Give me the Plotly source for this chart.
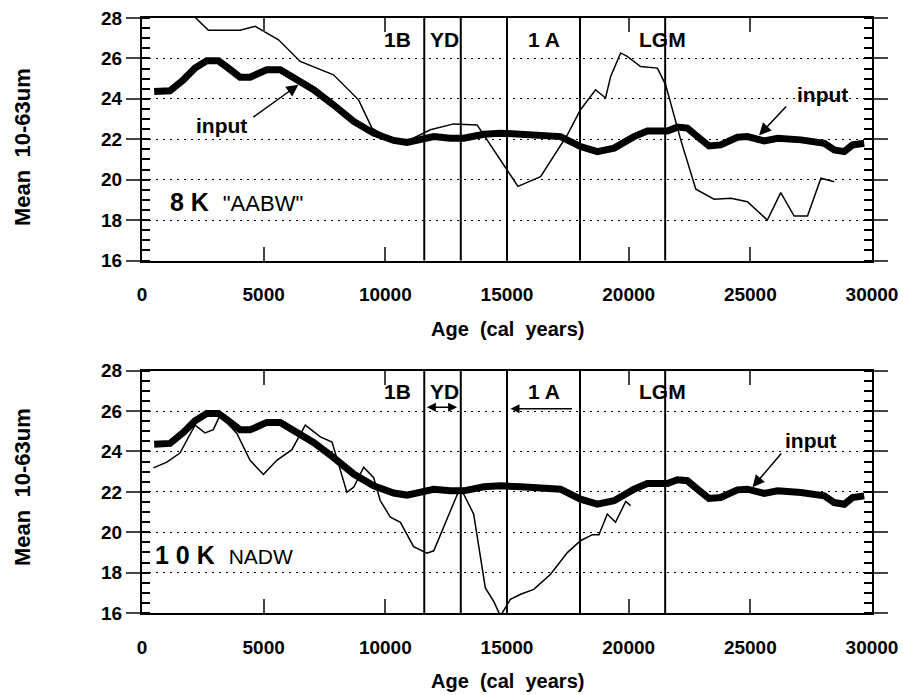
import plotly.graph_objects as go

# ---- data ----
input_age = [500, 1150, 1700, 2180, 2660, 3140, 3550, 4030, 4440, 5130, 5680, 6370, 7050, 7870,
             8700, 9520, 10340, 10890, 11580, 11990, 12670, 13220, 14050, 14730, 15560, 17200,
             18020, 18710, 19400, 20220, 20770, 21590, 22000, 22410, 22830, 23300, 23780, 24470,
             24880, 25570, 26120, 27080, 28040, 28450, 28860, 29200, 29680]
input_val = [24.36, 24.4, 24.94, 25.52, 25.88, 25.88, 25.52, 25.07, 25.07, 25.44, 25.44, 24.94,
             24.45, 23.7, 22.88, 22.3, 21.94, 21.84, 21.97, 22.13, 22.05, 22.05, 22.25, 22.3,
             22.25, 22.13, 21.64, 21.39, 21.56, 22.13, 22.41, 22.41, 22.6, 22.55, 22.13, 21.67,
             21.72, 22.1, 22.13, 21.92, 22.05, 21.97, 21.8, 21.47, 21.39, 21.72, 21.8]

aabw_age = [1700, 2730, 4030, 4650, 5610, 6500, 7870, 8900, 9450, 10070, 10900, 11850, 12810,
            13770, 14180, 15010, 15450, 16380, 17480, 18020, 18640, 19050, 19260, 19670, 19940,
            20490, 21180, 21520, 22140, 22760, 23510, 24200, 24880, 25700, 26250, 26800, 27350,
            27900, 28450]
aabw_val = [28.6, 27.39, 27.39, 27.59, 26.92, 25.85, 25.19, 23.95, 22.55, 22.13, 21.9, 22.47,
            22.76, 22.71, 21.97, 20.48, 19.67, 20.15, 22.22, 23.46, 24.45, 24.04, 25.11, 26.27,
            26.1, 25.6, 25.52, 24.69, 21.97, 19.53, 19.03, 19.08, 18.91, 18.0, 19.36, 18.2, 18.2,
            20.07, 19.9]

nadw_age = [470, 1020, 1560, 2180, 2590, 2930, 3210, 3900, 4440, 4990, 5540, 6160, 6710, 7330,
            7810, 8420, 8700, 9110, 9520, 9790, 10210, 10620, 11160, 11710, 11990, 13080, 13630,
            14110, 14460, 14730, 15140, 15560, 16100, 16790, 17480, 18020, 18510, 18780, 19120,
            19460, 19880, 20080]
nadw_val = [23.19, 23.47, 23.92, 25.3, 24.92, 25.08, 25.8, 24.89, 23.56, 22.86, 23.56, 24.09,
            25.3, 24.72, 24.47, 21.98, 22.23, 23.22, 22.7, 21.57, 20.74, 20.49, 19.29, 18.96,
            19.08, 22.23, 20.9, 17.24, 16.56, 15.85, 16.68, 16.93, 17.17, 17.92, 18.99, 19.58,
            19.88, 19.88, 20.9, 20.49, 21.53, 21.32]

boundaries = [11600, 13100, 15000, 18000, 21500]
period_labels = ["1B", "YD", "1 A", "LGM"]
period_label_x = [10500, 12430, 16500, 21400]

x_ticks = [0, 5000, 10000, 15000, 20000, 25000, 30000]
x_tick_text = ["0", "5000", "10000", "15000", "20000", "25000", "30000"]
y_ticks = [16, 18, 20, 22, 24, 26, 28]

FONT = "Liberation Sans, Arial, sans-serif"
NARROW = "Liberation Sans Narrow, Liberation Sans, Arial, sans-serif"

W, H = 903, 695
L, R, T, B = 142, 31, 18, 82
PH = H - T - B

fig = go.Figure()

# top panel
fig.add_trace(go.Scatter(x=aabw_age, y=aabw_val, mode="lines", line=dict(color="black", width=1.5),
                         xaxis="x", yaxis="y", showlegend=False, hoverinfo="skip"))
fig.add_trace(go.Scatter(x=input_age, y=input_val, mode="lines", line=dict(color="black", width=7),
                         xaxis="x", yaxis="y", showlegend=False, hoverinfo="skip"))
# bottom panel
fig.add_trace(go.Scatter(x=nadw_age, y=nadw_val, mode="lines", line=dict(color="black", width=1.5),
                         xaxis="x2", yaxis="y2", showlegend=False, hoverinfo="skip"))
fig.add_trace(go.Scatter(x=input_age, y=input_val, mode="lines", line=dict(color="black", width=7),
                         xaxis="x2", yaxis="y2", showlegend=False, hoverinfo="skip"))

tickfont = dict(family=FONT, size=19, color="black", weight="bold")


def xax(anchor):
    return dict(range=[0, 30000], tickvals=x_ticks, ticktext=x_tick_text, ticks="inside",
                ticklen=14, tickwidth=1.5, automargin=False, ticklabeloverflow="allow",
                showline=True, linewidth=2, linecolor="black", mirror="ticks", showgrid=False,
                zeroline=False, tickfont=tickfont, ticklabelstandoff=16, anchor=anchor)


def yax(anchor, domain):
    return dict(range=[16, 28], tickvals=y_ticks, ticks="outside", ticklen=14, tickwidth=1.5,
                showline=True, linewidth=2, linecolor="black", mirror="ticks", automargin=False,
                ticklabeloverflow="allow",
                showgrid=True, gridcolor="black", gridwidth=1, griddash="2px,5px",
                zeroline=False, tickfont=tickfont, domain=domain, anchor=anchor,
                minor=dict(dtick=0.5, ticks="inside", ticklen=8, tickwidth=1.5, tickcolor="black",
                           showgrid=False))


def yover(base, anchor, domain):
    return dict(range=[16, 28], tickvals=y_ticks, ticks="inside", ticklen=14, tickwidth=1.5,
                mirror="ticks", showline=False, showgrid=False, zeroline=False, automargin=False,
                showticklabels=False, overlaying=base, anchor=anchor, domain=domain)


def py2paper(py):
    # screen pixel y -> paper fraction
    return (H - B - py) / PH


d_top = [py2paper(260.5), 1.0]
d_bot = [0.0, py2paper(370.7)]

fig.update_layout(
    width=W, height=H,
    margin=dict(l=L, r=R, t=T, b=B, autoexpand=False),
    paper_bgcolor="white", plot_bgcolor="white",
    font=dict(family=FONT, color="black"),
    hovermode=False,
    xaxis=xax("y"), yaxis=yax("x", d_top),
    xaxis2=xax("y2"), yaxis2=yax("x2", d_bot),
    yaxis3=yover("y", "x", d_top), yaxis4=yover("y2", "x2", d_bot),
)

shapes = []
for xref, yref in [("x", "y domain"), ("x2", "y2 domain")]:
    for b in boundaries:
        shapes.append(dict(type="line", xref=xref, yref=yref, x0=b, x1=b, y0=0, y1=1,
                           line=dict(color="black", width=2)))
fig.update_layout(shapes=shapes)

ann = []
lab_font = dict(family=NARROW, size=21, color="black", weight="bold")
for xr, yr, yv in [("x", "y", 26.95), ("x2", "y2", 26.95)]:
    for t, xp in zip(period_labels, period_label_x):
        ann.append(dict(x=xp, y=yv, xref=xr, yref=yr, text=t, showarrow=False, font=lab_font))

in_font = dict(family=FONT, size=21, color="black", weight="bold")
# top panel "input" labels and arrows
ann.append(dict(x=3280, y=22.68, xref="x", yref="y", text="input", showarrow=False, font=in_font))
ann.append(dict(x=6430, y=24.7, ax=4514, ay=23.04, xref="x", yref="y", axref="x", ayref="y",
                text="", showarrow=True, arrowhead=2, arrowsize=1.6, arrowwidth=1.5, arrowcolor="black"))
ann.append(dict(x=27970, y=24.2, xref="x", yref="y", text="input", showarrow=False, font=in_font))
ann.append(dict(x=25360, y=22.2, ax=26530, ay=23.7, xref="x", yref="y", axref="x", ayref="y",
                text="", showarrow=True, arrowhead=2, arrowsize=1.6, arrowwidth=1.5, arrowcolor="black"))
ann.append(dict(x=1060, y=18.88, xref="x", yref="y", xanchor="left", showarrow=False,
                text='<b>8 K</b>  <span style="font-size:22px">"AABW"</span>',
                font=dict(family=FONT, size=25, color="black")))

# bottom panel
ann.append(dict(x=27490, y=24.55, xref="x2", yref="y2", text="input", showarrow=False, font=in_font))
ann.append(dict(x=25089, y=22.23, ax=26323, ay=23.97, xref="x2", yref="y2", axref="x2", ayref="y2",
                text="", showarrow=True, arrowhead=2, arrowsize=1.6, arrowwidth=1.5, arrowcolor="black"))
ann.append(dict(x=12950, y=26.19, ax=11646, ay=26.19, xref="x2", yref="y2", axref="x2", ayref="y2",
                text="", showarrow=True, arrowhead=2, startarrowhead=2, arrowside="end+start",
                arrowsize=1.2, startarrowsize=1.2, arrowwidth=1.5, arrowcolor="black"))
ann.append(dict(x=15143, y=26.12, ax=17735, ay=26.12, xref="x2", yref="y2", axref="x2", ayref="y2",
                text="", showarrow=True, arrowhead=2, arrowsize=1.2, arrowwidth=1.5, arrowcolor="black"))
ann.append(dict(x=470, y=18.88, xref="x2", yref="y2", xanchor="left", showarrow=False,
                text='<b>1 0 K</b>  <span style="font-family:Liberation Sans Narrow, Liberation Sans;font-size:21px">NADW</span>',
                font=dict(family=FONT, size=25, color="black")))

# axis titles
title_font = dict(family=FONT, size=20, color="black", weight="bold")
for ypx in [329, 681]:
    ann.append(dict(x=0.5, y=py2paper(ypx), xref="paper", yref="paper",
                    text="Age\u00a0\u00a0(cal\u00a0\u00a0years)", showarrow=False, font=title_font,
                    yanchor="middle"))
for ypx in [147, 487]:
    ann.append(dict(x=(22 - 142) / 730, y=py2paper(ypx), xref="paper", yref="paper",
                    text="Mean\u00a0\u00a010-63um", showarrow=False, textangle=-90,
                    font=dict(family=FONT, size=22, color="black", weight="bold"),
                    xanchor="center", yanchor="middle"))
fig.update_layout(annotations=ann)

# remove the default page margin so the 903x695 figure fills the window exactly
fig.write_html("out.html", config={"displayModeBar": False},
               post_script="document.body.style.margin='0px';document.body.style.overflow='hidden';")
